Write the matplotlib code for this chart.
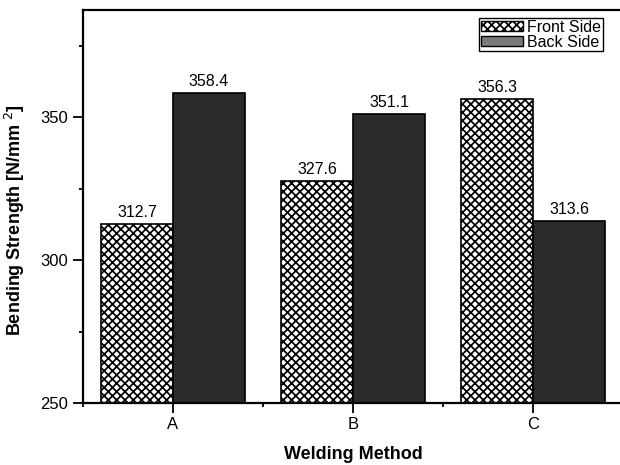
import matplotlib
matplotlib.use("Agg")
import matplotlib.pyplot as plt
import numpy as np
from matplotlib.ticker import MultipleLocator
from matplotlib.patches import Patch

plt.rcParams['font.family'] = ['Liberation Sans', 'DejaVu Sans']
plt.rcParams['hatch.linewidth'] = 1.25

methods = ['A', 'B', 'C']
front_side = [312.7, 327.6, 356.3]
back_side = [358.4, 351.1, 313.6]

fig = plt.figure(figsize=(6.2, 4.65), dpi=100)
ax = fig.add_axes([83/620, 62/465, (623-83)/620, (403-10)/465])

x = np.arange(1, len(methods) + 1)
w = 0.4
ax.bar(x - w/2, front_side, w, facecolor='white', edgecolor='black',
       hatch='xxxx', linewidth=1.2)
ax.bar(x + w/2, back_side, w, facecolor='#2b2b2b', edgecolor='black',
       linewidth=1.2)

for xi, v in zip(x - w/2, front_side):
    ax.text(xi, v + 1.5, f'{v:.1f}', ha='center', va='bottom', fontsize=11.5)
for xi, v in zip(x + w/2, back_side):
    ax.text(xi, v + 1.5, f'{v:.1f}', ha='center', va='bottom', fontsize=11.5)

ax.set_xlim(0.5, 3.5)
ax.set_ylim(250, 387.5)
ax.set_xticks(x)
ax.set_xticklabels(methods)
ax.xaxis.set_minor_locator(MultipleLocator(0.5))
ax.set_yticks([250, 300, 350])
ax.yaxis.set_minor_locator(MultipleLocator(25))
ax.tick_params(axis='both', which='major', direction='out', length=7, width=1.3, labelsize=12)
ax.tick_params(axis='x', which='major', pad=3)
ax.tick_params(axis='both', which='minor', direction='out', length=3, width=1.3)
for s in ax.spines.values():
    s.set_linewidth(1.6)
ax.spines['right'].set_visible(False)

ax.set_xlabel('Welding Method', fontsize=13, fontweight='bold', labelpad=10)
ax.set_ylabel(r'Bending Strength [N/mm$^{\ 2}$]', fontsize=13, fontweight='bold',
              labelpad=10, y=0.466)

handles = [Patch(facecolor='white', edgecolor='black', hatch='xxxx', linewidth=1.0),
           Patch(facecolor='#7a7a7a', edgecolor='black', linewidth=1.0)]
leg = ax.legend(handles, ['Front Side', 'Back Side'], loc='upper right',
                bbox_to_anchor=((603-83)/(623-83), (403-18)/(403-10)), fontsize=11.5,
                frameon=True, fancybox=False, edgecolor='black', framealpha=1,
                handlelength=2.6, handleheight=0.6, handletextpad=0.3,
                borderpad=0.1, labelspacing=0.0, borderaxespad=0)
leg.get_frame().set_linewidth(1.0)

fig.savefig('out.png', dpi=100)
